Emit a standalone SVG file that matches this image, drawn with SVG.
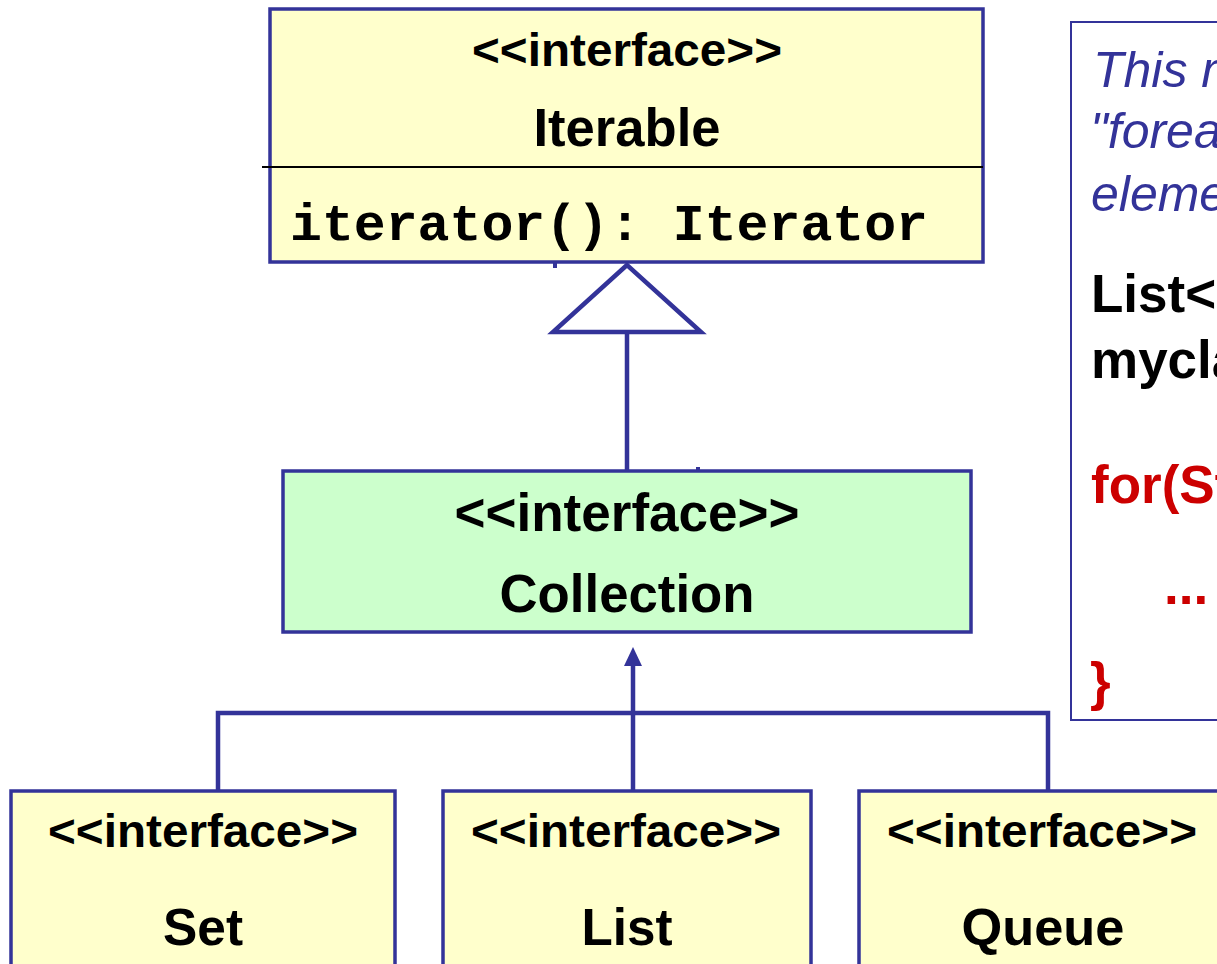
<svg xmlns="http://www.w3.org/2000/svg" width="1217" height="964" viewBox="0 0 1217 964">
<style>
.box{stroke:#333399;stroke-width:3.5}
.yel{fill:#FFFFCC}
.grn{fill:#CCFFCC}
.t{font-family:"Liberation Sans",Arial,sans-serif;font-weight:bold;fill:#000;text-anchor:middle}
.mono{font-family:"Liberation Mono","Courier New",monospace;font-weight:bold;fill:#000}
.conn{stroke:#333399;stroke-width:4.5;fill:none}
.note{font-family:"Liberation Sans",Arial,sans-serif;font-size:50px}
.code{font-family:"Liberation Sans",Arial,sans-serif;font-size:53px;font-weight:bold}
</style>
<defs>
<marker id="arr" markerWidth="20" markerHeight="20" refX="18" refY="9" orient="auto" markerUnits="userSpaceOnUse">
<path d="M0,0 L18,9 L0,18 Z" fill="#333399"/>
</marker>
</defs>
<rect width="1217" height="964" fill="#fff"/>

<g id="connectors">
<line class="conn" x1="627" y1="332" x2="627" y2="470"/>
<polygon points="627,265 553,332 701,332" fill="#fff" stroke="#333399" stroke-width="4.5"/>
<line class="conn" x1="633" y1="790" x2="633" y2="663"/>
<polygon points="633,647 624,666 642,666" fill="#333399"/>
<polyline class="conn" points="218,790 218,713 1048,713 1048,790"/>
<rect x="553" y="261" width="4" height="7" fill="#333399"/>
<rect x="696" y="467" width="4" height="5" fill="#333399"/>
</g>

<g id="iterable">
<rect class="box yel" x="270" y="9" width="713" height="253"/>
<line x1="262" y1="167" x2="983" y2="167" stroke="#000" stroke-width="2"/>
<text class="t" x="627" y="66" font-size="47" textLength="310" lengthAdjust="spacingAndGlyphs">&lt;&lt;interface&gt;&gt;</text>
<text class="t" x="627" y="146" font-size="53" textLength="187" lengthAdjust="spacingAndGlyphs">Iterable</text>
<text class="mono" x="290" y="240" font-size="52" textLength="638" lengthAdjust="spacingAndGlyphs">iterator(): Iterator</text>
</g>

<g id="collection">
<rect class="box grn" x="283" y="471" width="688" height="161"/>
<text class="t" x="627" y="531" font-size="53" textLength="345" lengthAdjust="spacingAndGlyphs">&lt;&lt;interface&gt;&gt;</text>
<text class="t" x="627" y="612" font-size="53" textLength="255" lengthAdjust="spacingAndGlyphs">Collection</text>
</g>

<g id="set">
<rect class="box yel" x="11" y="791" width="384" height="190"/>
<text class="t" x="203" y="847" font-size="47" textLength="310" lengthAdjust="spacingAndGlyphs">&lt;&lt;interface&gt;&gt;</text>
<text class="t" x="203" y="945" font-size="52" textLength="80" lengthAdjust="spacingAndGlyphs">Set</text>
</g>

<g id="list">
<rect class="box yel" x="443" y="791" width="368" height="190"/>
<text class="t" x="626" y="847" font-size="47" textLength="310" lengthAdjust="spacingAndGlyphs">&lt;&lt;interface&gt;&gt;</text>
<text class="t" x="627" y="945" font-size="52" textLength="91" lengthAdjust="spacingAndGlyphs">List</text>
</g>

<g id="queue">
<rect class="box yel" x="859" y="791" width="380" height="190"/>
<text class="t" x="1042" y="847" font-size="47" textLength="310" lengthAdjust="spacingAndGlyphs">&lt;&lt;interface&gt;&gt;</text>
<text class="t" x="1043" y="945" font-size="52" textLength="163" lengthAdjust="spacingAndGlyphs">Queue</text>
</g>

<g id="note">
<rect x="1071" y="22" width="170" height="698" fill="#fff" stroke="#333399" stroke-width="2"/>
<text class="note" x="1093" y="87" font-style="italic" fill="#333399">This m</text>
<text class="note" x="1090" y="148" font-style="italic" fill="#333399">"forea</text>
<text class="note" x="1091" y="211" font-style="italic" fill="#333399">eleme</text>
<text class="code" x="1091" y="312" fill="#000">List&lt;</text>
<text class="code" x="1091" y="378" fill="#000">mycla</text>
<text class="code" x="1091" y="503" fill="#CC0000">for(St</text>
<text class="code" x="1164" y="604" font-size="60" fill="#CC0000">...</text>
<text class="code" x="1090" y="700" fill="#CC0000">}</text>
</g>
</svg>
